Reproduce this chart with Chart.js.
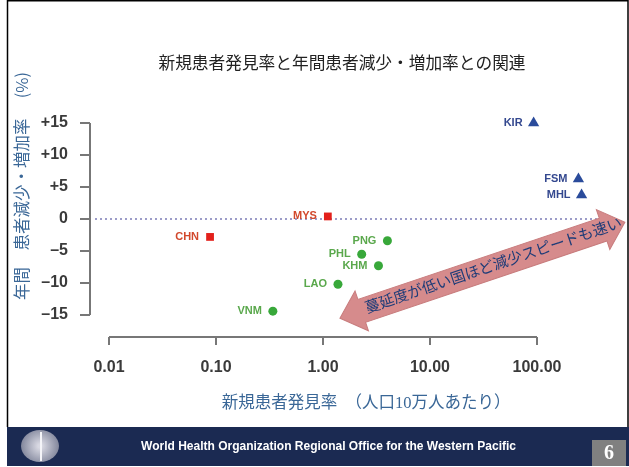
<!DOCTYPE html>
<html lang="ja">
<head>
<meta charset="utf-8">
<script src="https://cdn.jsdelivr.net/npm/chart.js@4.4.0/dist/chart.umd.min.js"></script>
<style>
  html, body { margin: 0; padding: 0; background: #fff; }
  #wrap { width: 629px; height: 467px; }
</style>
</head>
<body>
<div id="wrap"><canvas id="chart" width="629" height="467"></canvas></div>
<script>
/* ============================================================
   新規患者発見率 vs 年間患者減少・増加率 (log x scatter)
   ============================================================ */

// ── Data ──────────────────────────────────────────────────────
const X_TICKS = [0.01, 0.1, 1, 10, 100];
const Y_TICKS = [-15, -10, -5, 0, 5, 10, 15];

const redCodes   = ['CHN', 'MYS'];
const redRate    = [0.088, 1.11];
const redChange  = [-2.8, 0.4];

const greenCodes  = ['PNG', 'PHL', 'KHM', 'LAO', 'VNM'];
const greenRate   = [4.0, 2.3, 3.3, 1.38, 0.34];
const greenChange = [-3.4, -5.5, -7.3, -10.2, -14.4];

const blueCodes  = ['KIR', 'FSM', 'MHL'];
const blueRate   = [93, 244, 261];
const blueChange = [15.0, 6.25, 3.75];

// dotted zero line and the big arrow, in data units
const zeroLineX = [0.0074, 363];
const arrowFrom = [1.44, -15.5];
const arrowTo   = [663, -0.5];

const TITLE   = '新規患者発見率と年間患者減少・増加率との関連';
const X_TITLE = '新規患者発見率　（人口10万人あたり）';
const Y_TITLE = '年間　患者減少・増加率　 (%)';
const ARROW_TEXT = '蔓延度が低い国ほど減少スピードも速い';
const FOOTER  = 'World Health Organization Regional Office for the Western Pacific';

const toPoints = (xs, ys) => xs.map((x, i) => ({ x, y: ys[i] }));

const CJK = '"Noto Sans CJK JP", sans-serif';
const SERIF_CJK = '"Liberation Serif", "Noto Sans CJK JP", serif';

// ── Slide decoration: titles, bracket axes, labels, arrow, footer ──
const slideDecor = {
  id: 'slideDecor',
  beforeDatasetsDraw(chart) {
    const { ctx, scales: { x, y } } = chart;
    ctx.save();
    ctx.strokeStyle = '#777';
    ctx.lineWidth = 2;
    // R-style axes: only span first to last tick
    const ax = chart.chartArea.left, ay = chart.chartArea.bottom;
    ctx.beginPath();
    ctx.moveTo(ax, Math.round(y.getPixelForValue(Y_TICKS[0])));
    ctx.lineTo(ax, Math.round(y.getPixelForValue(Y_TICKS[Y_TICKS.length - 1])));
    ctx.moveTo(Math.round(x.getPixelForValue(X_TICKS[0])), ay);
    ctx.lineTo(Math.round(x.getPixelForValue(X_TICKS[X_TICKS.length - 1])), ay);
    ctx.stroke();
    ctx.restore();
  },
  afterDatasetsDraw(chart) {
    const { ctx, scales: { x, y } } = chart;

    // point labels
    const groups = [
      { idx: 0, codes: redCodes,   color: '#d2482c' },
      { idx: 1, codes: greenCodes, color: '#5aa84c' },
      { idx: 2, codes: blueCodes,  color: '#34488f' },
    ];
    ctx.save();
    ctx.font = 'bold 11px "Liberation Sans", Arial, sans-serif';
    ctx.textAlign = 'right';
    ctx.textBaseline = 'middle';
    groups.forEach(g => {
      ctx.fillStyle = g.color;
      chart.getDatasetMeta(g.idx).data.forEach((el, i) => {
        ctx.fillText(g.codes[i], el.x - 11, el.y);
      });
    });
    ctx.restore();

    // double-headed arrow
    const x1 = x.getPixelForValue(arrowFrom[0]), y1 = y.getPixelForValue(arrowFrom[1]);
    const x2 = x.getPixelForValue(arrowTo[0]),   y2 = y.getPixelForValue(arrowTo[1]);
    const len = Math.hypot(x2 - x1, y2 - y1);
    const ang = Math.atan2(y2 - y1, x2 - x1);
    const hw = 12, hh = 21, hl = 23;
    ctx.save();
    ctx.translate(x1, y1);
    ctx.rotate(ang);
    ctx.beginPath();
    ctx.moveTo(0, 0);
    ctx.lineTo(hl, -hh);
    ctx.lineTo(hl, -hw);
    ctx.lineTo(len - hl, -hw);
    ctx.lineTo(len - hl, -hh);
    ctx.lineTo(len, 0);
    ctx.lineTo(len - hl, hh);
    ctx.lineTo(len - hl, hw);
    ctx.lineTo(hl, hw);
    ctx.lineTo(hl, hh);
    ctx.closePath();
    ctx.fillStyle = '#d68b8c';
    ctx.fill();
    ctx.strokeStyle = '#c87c7d';
    ctx.lineWidth = 1;
    ctx.stroke();
    ctx.fillStyle = '#1e3c78';
    ctx.font = '15px ' + SERIF_CJK;
    ctx.textAlign = 'center';
    ctx.textBaseline = 'middle';
    ctx.fillText(ARROW_TEXT, len * 0.54, 0);
    ctx.restore();
  },
  afterDraw(chart) {
    const { ctx } = chart;
    ctx.save();

    // slide frame
    ctx.strokeStyle = '#000';
    ctx.lineWidth = 1.5;
    ctx.beginPath();
    ctx.moveTo(7.5, 427); ctx.lineTo(7.5, 0.75);
    ctx.lineTo(628, 0.75); ctx.lineTo(628, 427);
    ctx.stroke();

    // chart title
    ctx.fillStyle = '#222';
    ctx.font = '16.7px ' + CJK;
    ctx.textAlign = 'center';
    ctx.textBaseline = 'middle';
    ctx.fillText(TITLE, 342, 63);

    // x title
    ctx.fillStyle = '#3a6797';
    ctx.font = '16.5px ' + SERIF_CJK;
    ctx.fillText(X_TITLE, 366, 404);

    // y title
    ctx.save();
    ctx.translate(22, 186);
    ctx.rotate(-Math.PI / 2);
    ctx.font = '16.5px ' + CJK;
    ctx.fillText(Y_TITLE, 0, 0);
    ctx.restore();

    // footer band
    ctx.fillStyle = '#1b2a52';
    ctx.fillRect(7, 427, 622, 39);
    ctx.fillStyle = '#808080';
    ctx.fillRect(592, 440, 34, 26);
    ctx.fillStyle = '#fff';
    ctx.font = 'bold 20px "Liberation Serif", serif';
    ctx.fillText('6', 609, 454);
    ctx.font = 'bold 12px "Liberation Sans", Arial, sans-serif';
    ctx.fillText(FOOTER, 328.5, 447, 391);

    // WHO emblem (rough)
    const g = ctx.createRadialGradient(40, 446, 2, 40, 446, 20);
    g.addColorStop(0, '#d8d8e2');
    g.addColorStop(1, '#7d8298');
    ctx.fillStyle = g;
    ctx.beginPath();
    ctx.ellipse(40, 446, 19, 16, 0, 0, Math.PI * 2);
    ctx.fill();
    ctx.strokeStyle = '#f4f4f8';
    ctx.lineWidth = 2;
    ctx.beginPath();
    ctx.moveTo(41, 432); ctx.lineTo(41, 461);
    ctx.stroke();

    ctx.restore();
  },
};

new Chart(document.getElementById('chart'), {
  type: 'scatter',
  data: {
    datasets: [
      {
        data: toPoints(redRate, redChange),
        pointStyle: 'rect', pointRadius: 5.5,
        backgroundColor: '#e3201b', borderColor: '#e3201b', borderWidth: 0,
      },
      {
        data: toPoints(greenRate, greenChange),
        pointStyle: 'circle', pointRadius: 4.5,
        backgroundColor: '#38a83a', borderColor: '#38a83a', borderWidth: 0,
      },
      {
        data: toPoints(blueRate, blueChange),
        pointStyle: 'triangle', pointRadius: 6.5,
        backgroundColor: '#2a4b9b', borderColor: '#2a4b9b', borderWidth: 0,
      },
      {
        data: toPoints(zeroLineX, [0, 0]),
        showLine: true, pointRadius: 0, order: 1,
        borderColor: '#9c9cc8', borderWidth: 2, borderDash: [2, 3],
      },
    ],
  },
  options: {
    responsive: false,
    animation: false,
    layout: { autoPadding: false, padding: { left: 0, right: 0, top: 95, bottom: 90 } },
    plugins: {
      legend:  { display: false },
      tooltip: { enabled: false },
    },
    scales: {
      x: {
        type: 'logarithmic',
        min: 0.006645, max: 724.3,
        afterBuildTicks: s => { s.ticks = X_TICKS.map(v => ({ value: v })); },
        afterFit: s => { s.height = 40; },
        border: { display: false },
        grid: { drawOnChartArea: false, drawTicks: true, tickLength: 8, color: '#777', lineWidth: 2 },
        ticks: {
          autoSkip: false, maxRotation: 0, padding: 13, color: '#3a3a3a',
          font: { family: '"Liberation Sans", Arial, sans-serif', size: 16, weight: 'bold' },
          callback: v => Number(v).toFixed(2),
        },
      },
      y: {
        min: -18.4375, max: 19.375,
        afterBuildTicks: s => { s.ticks = Y_TICKS.map(v => ({ value: v })); },
        afterFit: s => { s.width = 90; },
        border: { display: false },
        grid: { drawOnChartArea: false, drawTicks: true, tickLength: 10, color: '#777', lineWidth: 2 },
        ticks: {
          padding: 12, color: '#3a3a3a',
          font: { family: '"Liberation Sans", Arial, sans-serif', size: 16, weight: 'bold' },
          callback: v => v > 0 ? '+' + v : (v < 0 ? '\u2013' + Math.abs(v) : '0'),
        },
      },
    },
  },
  plugins: [slideDecor],
});
</script>
</body>
</html>
